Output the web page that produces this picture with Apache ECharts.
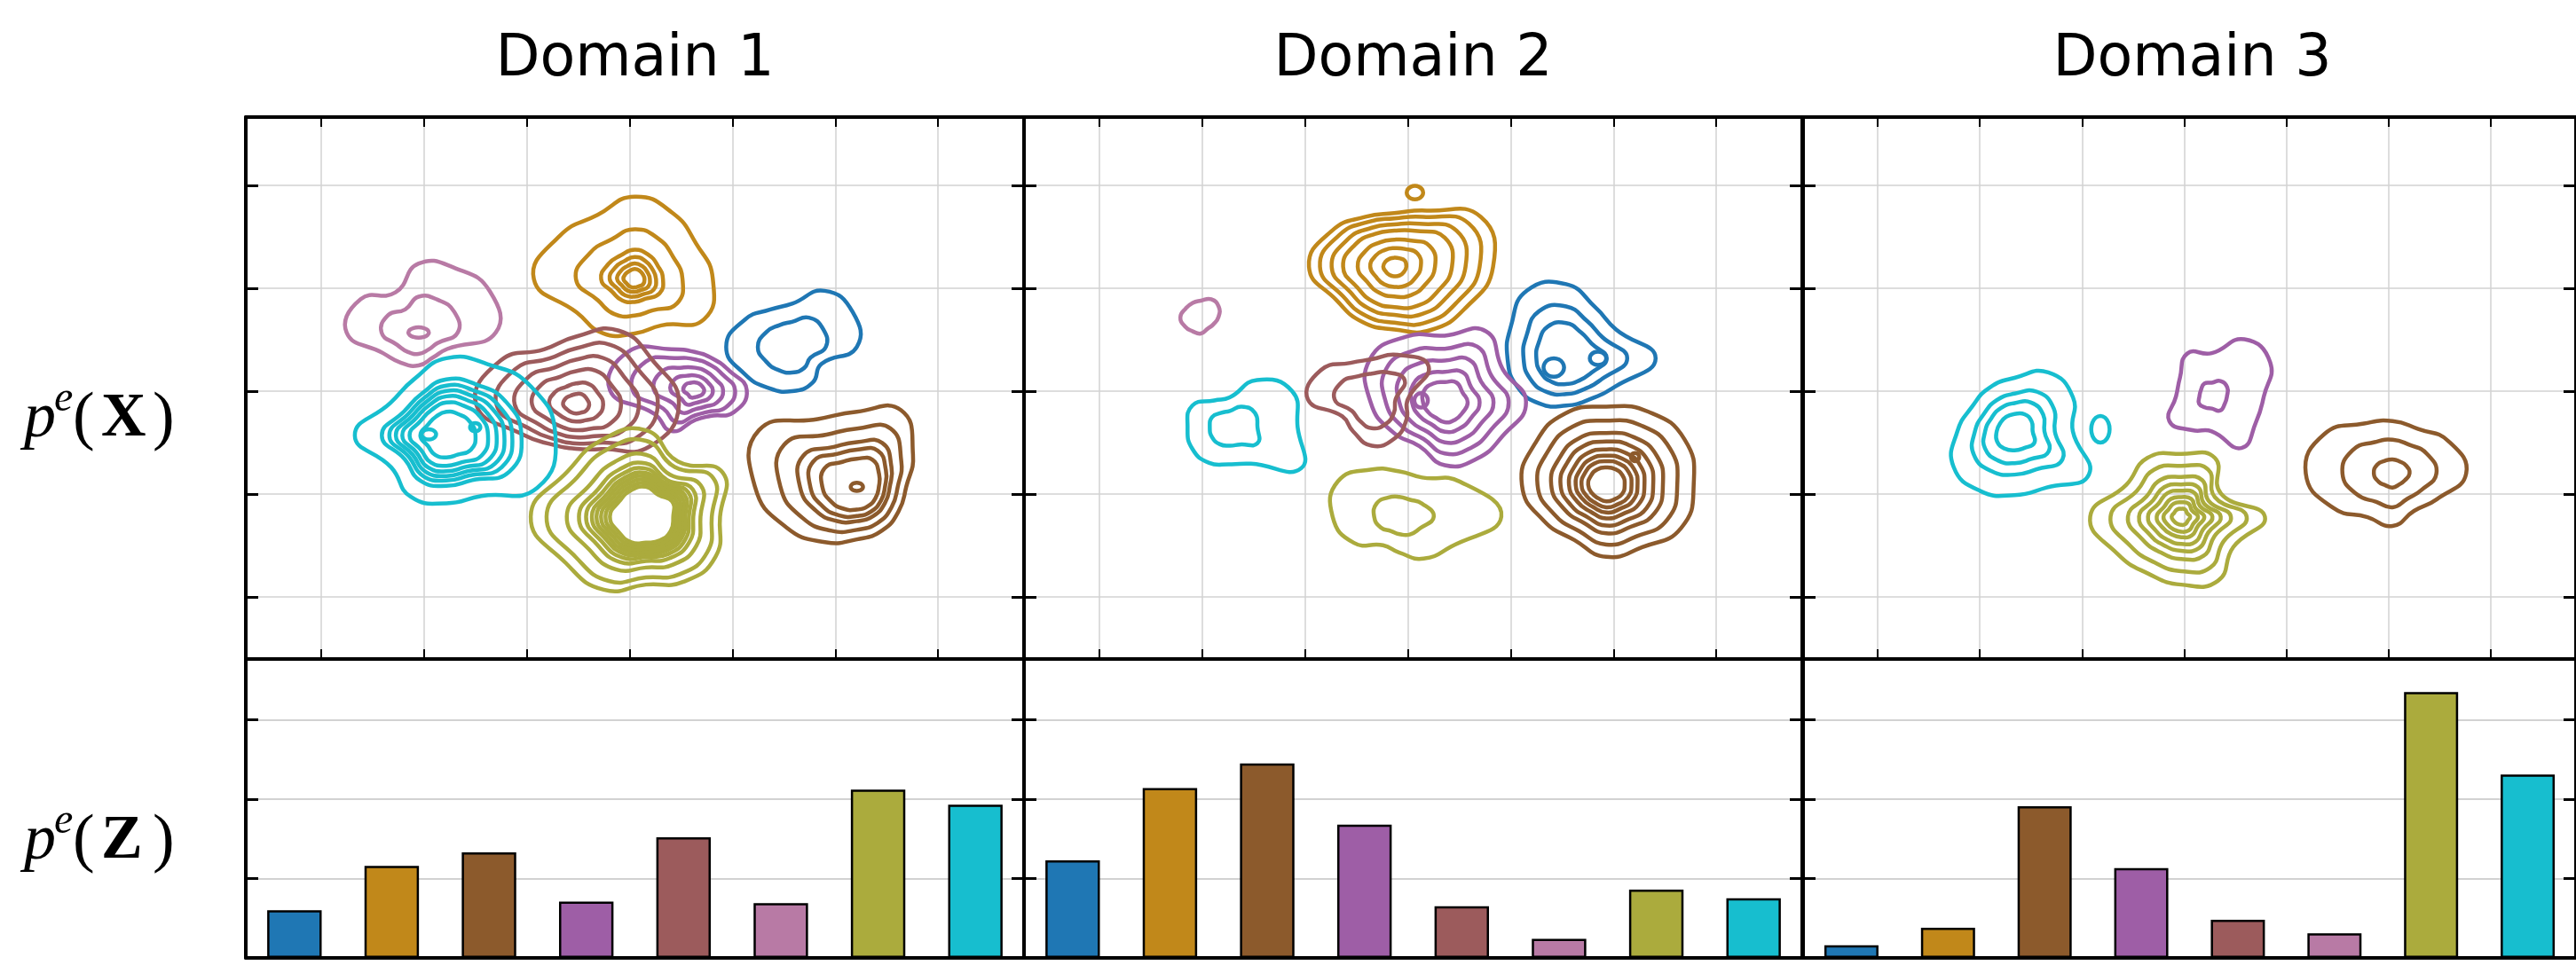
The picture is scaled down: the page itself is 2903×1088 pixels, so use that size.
<!DOCTYPE html>
<html>
<head>
<meta charset="utf-8">
<script src="https://cdn.jsdelivr.net/npm/echarts@6/dist/echarts.min.js"></script>
<style>
  html, body { margin: 0; padding: 0; background: #fff; }
  #chart { width: 2903px; height: 1088px; }
</style>
</head>
<body>
<div id="chart"></div>
<script>
// ---- data ----
const domains = ['Domain 1', 'Domain 2', 'Domain 3'];
const classes = ['0', '1', '2', '3', '4', '5', '6', '7'];
const classColors = ['#1f77b4', '#c1881a', '#8c5a2c', '#9e5ea6', '#9c5b5c', '#b87aa5', '#abab3d', '#17becf'];

// p^e(Z) bar heights
const pzDomain1 = [0.060, 0.116, 0.133, 0.071, 0.152, 0.069, 0.212, 0.193];
const pzDomain2 = [0.123, 0.214, 0.245, 0.168, 0.065, 0.024, 0.086, 0.075];
const pzDomain3 = [0.016, 0.038, 0.191, 0.113, 0.048, 0.031, 0.335, 0.231];

// p^e(X) contours: per class a density peak, the outer contour radius every 30 deg,
// and the relative size of each contour level (null = no contour in that domain)
const peaksD1 = [[1.58, 0.43], [0.05, 1.09], [2.21, -0.93], [0.64, 0.01], [-0.52, -0.13], [-2.05, 0.57], [0.16, -1.22], [-1.78, -0.43]];
const radiiD1 = [
  [0.63, 0.68, 0.63, 0.42, 0.42, 0.53, 0.64, 0.53, 0.46, 0.43, 0.40, 0.33],
  [0.76, 0.69, 0.74, 0.80, 0.72, 0.84, 0.98, 0.65, 0.61, 0.53, 0.52, 0.78],
  [0.48, 0.63, 0.86, 0.73, 0.76, 1.10, 0.99, 0.79, 0.62, 0.51, 0.49, 0.47],
  [0.50, 0.38, 0.35, 0.37, 0.46, 0.75, 0.83, 0.46, 0.46, 0.29, 0.29, 0.43],
  [1.00, 0.86, 0.83, 0.66, 0.62, 0.85, 0.97, 0.59, 0.45, 0.43, 0.50, 0.82],
  [0.75, 0.80, 0.72, 0.67, 0.45, 0.65, 0.70, 0.40, 0.34, 0.32, 0.28, 0.32],
  [0.72, 0.86, 0.62, 0.84, 0.86, 0.88, 1.12, 0.90, 0.82, 0.66, 0.73, 0.78],
  [1.06, 0.95, 0.80, 0.75, 0.63, 0.63, 0.89, 0.62, 0.69, 0.66, 0.68, 1.02]
];
const levelsD1 = [
  [1, 0.55],
  [1, 0.62, 0.37, 0.28, 0.2, 0.13],
  [1, 0.78, 0.6, 0.5, 0.38],
  [1, 0.78, 0.55, 0.35, 0.18],
  [1, 0.82, 0.65, 0.48, 0.3, 0.15],
  [1, 0.55],
  [1, 0.88, 0.72, 0.62, 0.56, 0.51, 0.47, 0.43, 0.39, 0.35],
  [1, 0.72, 0.64, 0.57, 0.5, 0.42, 0.3]
];
// small isolated contours: class, x, y, rx, ry
const spotsD1 = [[2, 2.21, -0.93, 0.06, 0.04], [5, -2.05, 0.57, 0.10, 0.05], [7, -1.95, -0.42, 0.07, 0.05], [7, -1.50, -0.35, 0.05, 0.04]];

const peaksD2 = [[1.54, 0.32], [-0.13, 1.21], [1.93, -0.91], [0.36, -0.11], [-0.35, -0.08], [-2.01, 0.72], [-0.08, -1.22], [-1.73, -0.35]];
const radiiD2 = [
  [0.87, 0.56, 0.57, 0.72, 0.76, 0.62, 0.57, 0.55, 0.51, 0.46, 0.46, 0.55],
  [0.96, 0.97, 0.63, 0.52, 0.56, 0.70, 0.83, 0.65, 0.62, 0.61, 0.71, 0.80],
  [0.85, 0.88, 0.82, 0.76, 0.80, 0.80, 0.82, 0.70, 0.62, 0.70, 0.70, 0.84],
  [0.79, 0.65, 0.80, 0.65, 0.74, 0.84, 0.72, 0.58, 0.49, 0.61, 0.63, 0.65],
  [0.35, 0.64, 0.50, 0.39, 0.41, 0.57, 0.62, 0.33, 0.36, 0.45, 0.44, 0.39],
  [0.17, 0.20, 0.20, 0.16, 0.16, 0.17, 0.20, 0.18, 0.16, 0.16, 0.13, 0.14],
  [0.99, 0.68, 0.44, 0.44, 0.53, 0.69, 0.65, 0.51, 0.32, 0.35, 0.47, 0.58],
  [0.66, 0.70, 0.53, 0.29, 0.30, 0.42, 0.41, 0.42, 0.40, 0.36, 0.41, 0.80]
];
const levelsD2 = [
  [1, 0.72, 0.5],
  [1, 0.88, 0.75, 0.62, 0.45, 0.3, 0.14],
  [1, 0.82, 0.66, 0.55, 0.45, 0.37, 0.3, 0.22],
  [1, 0.8, 0.62, 0.45, 0.3],
  [1, 0.62],
  [1],
  [1, 0.4],
  [1, 0.45]
];
const spotsD2 = [[1, 0.07, 1.93, 0.08, 0.065], [0, 1.42, 0.23, 0.10, 0.09], [0, 1.85, 0.32, 0.08, 0.065], [3, 0.13, -0.09, 0.066, 0.07], [2, 2.21, -0.64, 0.04, 0.04]];

const peaksD3 = [null, null, [2.04, -0.80], [0.27, -0.05], null, null, [-0.03, -1.22], [-1.66, -0.39]];
const radiiD3 = [
  null, null,
  [0.72, 0.63, 0.50, 0.51, 0.56, 0.77, 0.85, 0.67, 0.49, 0.51, 0.42, 0.50],
  [0.51, 0.66, 0.64, 0.42, 0.48, 0.36, 0.35, 0.48, 0.38, 0.34, 0.58, 0.50],
  null, null,
  [0.82, 0.45, 0.66, 0.61, 0.66, 0.62, 0.89, 0.72, 0.64, 0.66, 0.72, 0.59],
  [0.57, 0.66, 0.66, 0.52, 0.49, 0.48, 0.56, 0.69, 0.67, 0.62, 0.63, 0.84]
];
const levelsD3 = [null, null, [1, 0.62, 0.25], [1, 0.3], null, null, [1, 0.8, 0.62, 0.5, 0.4, 0.3, 0.22, 0.12], [1, 0.68, 0.5, 0.3]];
const spotsD3 = [[7, -0.82, -0.37, 0.09, 0.13]];

// axis ranges (x/y ticks at integers, bars ticks every 0.1)
const X_MIN = -3.73, X_MAX = 3.835;
const Y_MIN = -2.603, Y_MAX = 2.664;
const PZ_MAX = 0.3765;

// ---- build contour rings ----
function buildRings(peaks, radii, levels, spots) {
  const rings = [];
  peaks.forEach(function (pk, c) {
    if (!pk) return;
    const rs = radii[c];
    const mean = rs.reduce(function (a, b) { return a + b; }, 0) / rs.length;
    levels[c].forEach(function (s) {
      const w = 0.4 + 0.6 * s;
      const pts = rs.map(function (r, i) {
        const a = i * Math.PI / 6;
        const rr = s * (w * r + (1 - w) * mean);
        return [pk[0] + rr * Math.cos(a), pk[1] + rr * Math.sin(a)];
      });
      rings.push({ cls: c, pts: pts, center: pk });
    });
  });
  spots.forEach(function (sp) {
    const pts = [];
    for (let i = 0; i < 12; i++) {
      const a = i * Math.PI / 6;
      pts.push([sp[1] + sp[3] * Math.cos(a), sp[2] + sp[4] * Math.sin(a)]);
    }
    rings.push({ cls: sp[0], pts: pts, center: [sp[1], sp[2]] });
  });
  rings.sort(function (a, b) { return a.cls - b.cls; });
  return rings;
}
const ringsByDomain = [
  buildRings(peaksD1, radiiD1, levelsD1, spotsD1),
  buildRings(peaksD2, radiiD2, levelsD2, spotsD2),
  buildRings(peaksD3, radiiD3, levelsD3, spotsD3)
];
const pzByDomain = [pzDomain1, pzDomain2, pzDomain3];

// ---- layout ----
const panelLeft = [277, 1154, 2032];
const panelWidth = 877;
const topY = 132, topH = 611, botY = 743, botH = 337;

const grid = [], xAxis = [], yAxis = [], series = [], graphic = [];
const black = '#000';
function border() {
  return { show: true, onZero: false, lineStyle: { color: black, width: 4 } };
}
function ticks(len, w) {
  return { show: true, inside: true, length: len, lineStyle: { color: black, width: w } };
}
function grayGrid(w) {
  return { show: true, lineStyle: { color: '#d2d2d2', width: w } };
}

domains.forEach(function (name, d) {
  // top panel
  const gTop = grid.length;
  grid.push({ left: panelLeft[d], top: topY, width: panelWidth, height: topH });
  const xa = xAxis.length;
  xAxis.push({
    gridIndex: gTop, type: 'value', position: 'bottom', min: X_MIN, max: X_MAX, splitNumber: 7,
    axisLine: border(), axisLabel: { show: false }, axisTick: ticks(11, 2), splitLine: grayGrid(1.5)
  });
  xAxis.push({
    gridIndex: gTop, type: 'value', position: 'top', min: X_MIN, max: X_MAX, splitNumber: 7,
    axisLine: border(), axisLabel: { show: false }, axisTick: ticks(11, 2), splitLine: { show: false }
  });
  const ya = yAxis.length;
  yAxis.push({
    gridIndex: gTop, type: 'value', position: 'left', min: Y_MIN, max: Y_MAX, splitNumber: 5,
    axisLine: border(), axisLabel: { show: false }, axisTick: ticks(14, 3), splitLine: grayGrid(1.5)
  });
  yAxis.push({
    gridIndex: gTop, type: 'value', position: 'right', min: Y_MIN, max: Y_MAX, splitNumber: 5,
    axisLine: border(), axisLabel: { show: false }, axisTick: ticks(14, 3), splitLine: { show: false }
  });
  const rings = ringsByDomain[d];
  series.push({
    type: 'custom', xAxisIndex: xa, yAxisIndex: ya, silent: true, z: 1,
    encode: { x: 0, y: 1 },
    data: rings.map(function (r) { return r.center; }),
    renderItem: function (params, api) {
      const ring = rings[params.dataIndex];
      return {
        type: 'polygon',
        shape: { points: ring.pts.map(function (p) { return api.coord(p); }), smooth: 0.5 },
        style: { fill: 'none', stroke: classColors[ring.cls], lineWidth: 4.5 }
      };
    }
  });

  // bottom panel
  const gBot = grid.length;
  grid.push({ left: panelLeft[d], top: botY, width: panelWidth, height: botH });
  const xb = xAxis.length;
  xAxis.push({
    gridIndex: gBot, type: 'category', position: 'bottom', data: classes,
    axisLine: border(), axisTick: { show: false }, axisLabel: { show: false }, splitLine: { show: false }
  });
  xAxis.push({
    gridIndex: gBot, type: 'category', position: 'top', data: classes,
    axisLine: border(), axisTick: { show: false }, axisLabel: { show: false }, splitLine: { show: false }
  });
  const yb = yAxis.length;
  yAxis.push({
    gridIndex: gBot, type: 'value', position: 'left', min: 0, max: PZ_MAX, splitNumber: 4,
    axisLine: border(), axisLabel: { show: false }, axisTick: ticks(14, 3), splitLine: grayGrid(1.8)
  });
  yAxis.push({
    gridIndex: gBot, type: 'value', position: 'right', min: 0, max: PZ_MAX, splitNumber: 4,
    axisLine: border(), axisLabel: { show: false }, axisTick: ticks(14, 3), splitLine: { show: false }
  });
  series.push({
    type: 'bar', xAxisIndex: xb, yAxisIndex: yb, barWidth: '56%', silent: true,
    itemStyle: { borderColor: black, borderWidth: 2.5 },
    data: pzByDomain[d].map(function (v, i) {
      return { value: v, itemStyle: { color: classColors[i] } };
    })
  });

  // domain title
  graphic.push({
    type: 'text', x: panelLeft[d] + panelWidth / 2, y: 68,
    style: { text: name, font: '65px "DejaVu Sans"', fill: black, align: 'center', verticalAlign: 'middle' }
  });
});

// row labels p^e(X), p^e(Z)
function mathLabel(baseline, letter) {
  const parts = [
    { t: 'p', x: 27, size: 72, style: 'italic', weight: 'normal', dy: 0 },
    { t: 'e', x: 61, size: 48, style: 'italic', weight: 'normal', dy: -30 },
    { t: '(', x: 82, size: 74, style: 'normal', weight: 'normal', dy: 2 },
    { t: letter, x: 114, size: 70, style: 'normal', weight: 'bold', dy: 0 },
    { t: ')', x: 172, size: 74, style: 'normal', weight: 'normal', dy: 2 }
  ];
  return parts.map(function (p) {
    return {
      type: 'text', x: p.x, y: baseline + p.dy - 0.3375 * p.size,
      style: {
        text: p.t, fill: black, align: 'left', verticalAlign: 'middle',
        font: p.style + ' ' + p.weight + ' ' + p.size + 'px "Liberation Serif"'
      }
    };
  });
}
mathLabel(497, 'X').forEach(function (g) { graphic.push(g); });
mathLabel(973, 'Z').forEach(function (g) { graphic.push(g); });

const chart = echarts.init(document.getElementById('chart'));
chart.setOption({
  animation: false,
  backgroundColor: '#fff',
  grid: grid,
  xAxis: xAxis,
  yAxis: yAxis,
  series: series,
  graphic: graphic
});
</script>
</body>
</html>
